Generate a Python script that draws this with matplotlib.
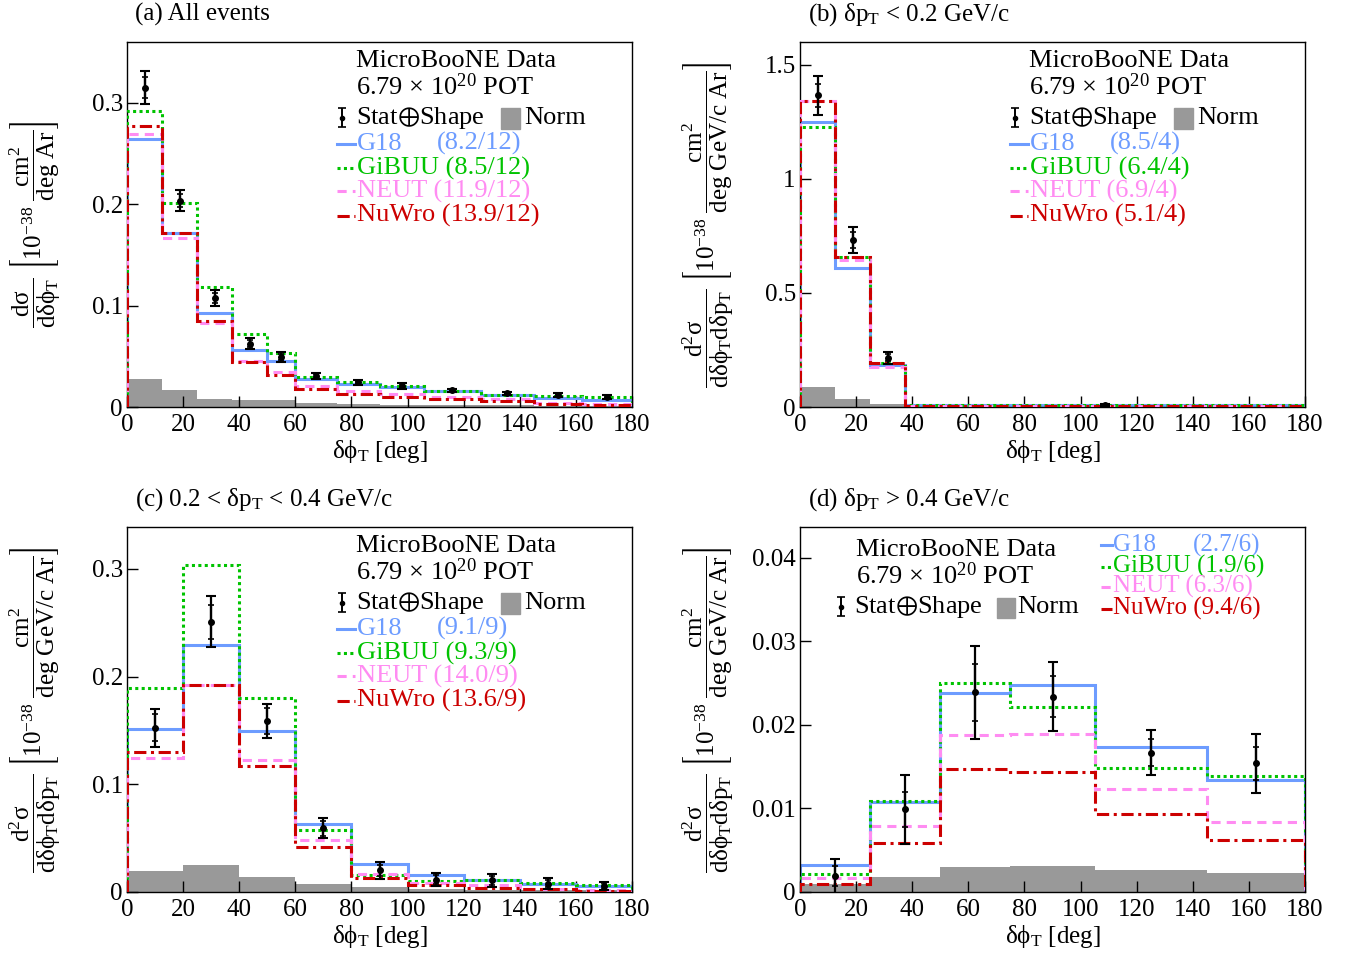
import numpy as np
import matplotlib
matplotlib.use('Agg')
import matplotlib.pyplot as plt
from matplotlib.ticker import FixedLocator, FuncFormatter
from matplotlib.patches import Rectangle

plt.rcParams['font.family'] = ['Liberation Serif', 'STIXGeneral', 'DejaVu Serif']
plt.rcParams['mathtext.fontset'] = 'stix'
plt.rcParams['mathtext.default'] = 'regular'

# ---------------- data ----------------
# (a) All events
edges_a = [0, 12.5, 25, 37.5, 50, 60, 75, 90, 106, 126, 145, 162, 180]
g18_a = [0.264, 0.172, 0.093, 0.056, 0.045, 0.028, 0.023, 0.0197, 0.0154, 0.0115, 0.0089, 0.0066]
gibuu_a = [0.292, 0.201, 0.118, 0.072, 0.0534, 0.030, 0.0246, 0.0207, 0.0157, 0.0121, 0.0108, 0.0098]
neut_a = [0.269, 0.1666, 0.083, 0.045, 0.0348, 0.0207, 0.0157, 0.013, 0.0098, 0.0075, 0.0043, 0.003]
nuwro_a = [0.277, 0.172, 0.0846, 0.0446, 0.032, 0.018, 0.0125, 0.0102, 0.0082, 0.0059, 0.0033, 0.002]
data_a = [0.315, 0.2036, 0.1075, 0.0626, 0.0495, 0.0305, 0.0246, 0.0207, 0.0164, 0.0134, 0.0115, 0.0102]
etot_a = [0.016, 0.0105, 0.008, 0.005, 0.005, 0.003, 0.0025, 0.0025, 0.0015, 0.0015, 0.002, 0.002]
estat_a = [0.010, 0.006, 0.005, 0.003, 0.003, 0.002, 0.0015, 0.0015, 0.001, 0.001, 0.0012, 0.0012]
norm_a = [0.0279, 0.0167, 0.0075, 0.0066, 0.0066, 0.0043, 0.003, 0.002, 0.002, 0.0015, 0.001, 0.001]
chi2_a = ['8.2/12', '8.5/12', '11.9/12', '13.9/12']

# (b) dpT < 0.2 GeV/c
edges_b = [0, 12.5, 25, 37.5, 180]
g18_b = [1.251, 0.608, 0.182, 0.007]
gibuu_b = [1.229, 0.657, 0.194, 0.007]
neut_b = [1.341, 0.646, 0.176, 0.006]
nuwro_b = [1.341, 0.657, 0.191, 0.006]
data_b = [1.367, 0.733, 0.216, 0.009]
etot_b = [0.086, 0.056, 0.027, 0.003]
estat_b = [0.05, 0.035, 0.016, 0.002]
norm_b = [0.089, 0.034, 0.012, 0.001]
chi2_b = ['8.5/4', '6.4/4', '6.9/4', '5.1/4']

# (c) 0.2 < dpT < 0.4 GeV/c
edges_c = [0, 20, 40, 60, 80, 100, 120, 140, 160, 180]
g18_c = [0.151, 0.229, 0.1495, 0.0628, 0.0257, 0.0155, 0.0115, 0.0071, 0.0056]
gibuu_c = [0.1895, 0.304, 0.1805, 0.0573, 0.0155, 0.0099, 0.0115, 0.0084, 0.0062]
neut_c = [0.124, 0.192, 0.123, 0.048, 0.017, 0.0084, 0.0062, 0.003, 0.002]
nuwro_c = [0.130, 0.1926, 0.117, 0.0418, 0.013, 0.0062, 0.004, 0.0025, 0.0006]
data_c = [0.1526, 0.251, 0.159, 0.0594, 0.020, 0.0115, 0.0108, 0.0077, 0.0056]
etot_c = [0.0178, 0.0235, 0.016, 0.0096, 0.0075, 0.006, 0.006, 0.005, 0.004]
estat_c = [0.0125, 0.016, 0.012, 0.007, 0.005, 0.004, 0.004, 0.003, 0.0025]
norm_c = [0.0192, 0.0248, 0.0139, 0.0071, 0.0046, 0.003, 0.002, 0.0015, 0.0015]
chi2_c = ['9.1/9', '9.3/9', '14.0/9', '13.6/9']

# (d) dpT > 0.4 GeV/c
edges_d = [0, 25, 50, 75, 105, 145, 180]
g18_d = [0.0032, 0.01072, 0.02388, 0.0248, 0.01732, 0.0134]
gibuu_d = [0.0022, 0.01088, 0.025, 0.02216, 0.0148, 0.01388]
neut_d = [0.0017, 0.0079, 0.0188, 0.0189, 0.0123, 0.0084]
nuwro_d = [0.0009, 0.0059, 0.0147, 0.0144, 0.0093, 0.0062]
data_d = [0.0019, 0.0099, 0.0239, 0.0234, 0.0167, 0.0154]
etot_d = [0.0021, 0.0041, 0.0056, 0.0041, 0.0027, 0.0035]
estat_d = [0.0012, 0.0021, 0.0034, 0.0025, 0.0016, 0.002]
norm_d = [0.0009, 0.0018, 0.003, 0.0031, 0.0026, 0.0023]
chi2_d = ['2.7/6', '1.9/6', '6.3/6', '9.4/6']

xticks = [0, 20, 40, 60, 80, 100, 120, 140, 160, 180]

# ---------------- style ----------------
C_G18 = '#6d9cff'
C_GIBUU = '#00c300'
C_NEUT = '#ff8cf2'
C_NUWRO = '#cc0000'
C_NORM = '#999999'
LW = 2.2
LS_G18 = '-'
LS_GIBUU = (0, (1, 1.1))
LS_NEUT = (0, (3, 2))
LS_NUWRO = (0, (4, 1.5, 1, 1.5))
FS = 18
LFS = 19

W, H = 1346, 960
fig = plt.figure(figsize=(W / 100, H / 100), dpi=100)


def add_ax(l, t, r, b):
    return fig.add_axes([l / W, 1 - b / H, (r - l) / W, (b - t) / H])


YLAB_1D = (r'$\dfrac{d\sigma}{d\delta\phi_{T}}\ \left[10^{-38}\ \dfrac{cm^{2}}{deg\ Ar}\right]$')
YLAB_2D = (r'$\dfrac{d^{2}\sigma}{d\delta\phi_{T}d\delta p_{T}}\ '
           r'\left[10^{-38}\ \dfrac{cm^{2}}{deg\ GeV/c\ Ar}\right]$')


def fmt(v, pos):
    return ('%g' % v)


def draw_panel(ax, edges, g18, gibuu, neut, nuwro, data, etot, estat, norm,
               ymax, yticks, ylabel, title, chi2, layout):
    edges = np.asarray(edges, float)
    ax.stairs(norm, edges, fill=True, color=C_NORM, lw=0, zorder=1)
    ax.stairs(g18, edges, color=C_G18, lw=LW, ls=LS_G18, zorder=2)
    ax.stairs(gibuu, edges, color=C_GIBUU, lw=LW, ls=LS_GIBUU, zorder=3)
    ax.stairs(neut, edges, color=C_NEUT, lw=LW, ls=LS_NEUT, zorder=4)
    ax.stairs(nuwro, edges, color=C_NUWRO, lw=LW, ls=LS_NUWRO, zorder=5)
    centers = 0.5 * (edges[1:] + edges[:-1])
    ax.errorbar(centers, data, yerr=etot, fmt='o', color='k', ms=4, capsize=3.5,
                elinewidth=1.6, capthick=1.5, zorder=6)
    ax.errorbar(centers, data, yerr=estat, fmt='none', ecolor='k', capsize=2.5,
                elinewidth=1.6, capthick=1.2, zorder=6)

    ax.set_xlim(0, 180)
    ax.set_ylim(0, ymax)
    ax.xaxis.set_major_locator(FixedLocator(xticks))
    ax.yaxis.set_major_locator(FixedLocator(yticks))
    ax.yaxis.set_major_formatter(FuncFormatter(fmt))
    ax.tick_params(direction='in', length=8, width=1.0, labelsize=FS, pad=5,
                   top=False, right=False)
    ax.tick_params(axis='y', pad=3)
    for s in ax.spines.values():
        s.set_linewidth(1.0)
    ax.set_xlabel(r'$\delta\phi_{T}$ [deg]', fontsize=FS)
    ax.xaxis.set_label_coords(0.5, -0.085)
    ax.set_ylabel(ylabel, fontsize=FS)
    ax.yaxis.set_label_coords(-0.127, 0.5)
    ax.text(0.015, 1.075, title, transform=ax.transAxes, fontsize=FS, va='center', ha='left')

    T = ax.transAxes
    if layout == 'A':
        tx = 0.453
        ax.text(tx, 0.9315, 'MicroBooNE Data', transform=T, fontsize=LFS)
        ax.text(tx, 0.855, r'6.79 × 10$^{20}$ POT', transform=T, fontsize=LFS)
        ax.text(tx, 0.775, r'Stat$\oplus$Shape', transform=T, fontsize=LFS)
        ax.errorbar([0.425], [0.793], yerr=[0.026], fmt='o', color='k', ms=3,
                    capsize=3, elinewidth=1.4, capthick=1.2, transform=T, clip_on=False)
        ax.add_patch(Rectangle((0.740, 0.762), 0.038, 0.057, color=C_NORM, transform=T))
        ax.text(0.786, 0.775, 'Norm', transform=T, fontsize=LFS)
        ys = [0.704, 0.638, 0.575, 0.507]
        sx0, sx1, mx, cx = 0.416, 0.451, 0.455, 0.613
        dy = 0.017
        mfs = LFS
    else:
        ax.text(0.110, 0.921, 'MicroBooNE Data', transform=T, fontsize=LFS)
        ax.text(0.110, 0.844, r'6.79 × 10$^{20}$ POT', transform=T, fontsize=LFS)
        ax.text(0.107, 0.764, r'Stat$\oplus$Shape', transform=T, fontsize=LFS)
        ax.errorbar([0.081], [0.782], yerr=[0.026], fmt='o', color='k', ms=3,
                    capsize=3, elinewidth=1.4, capthick=1.2, transform=T, clip_on=False)
        ax.add_patch(Rectangle((0.390, 0.751), 0.036, 0.054, color=C_NORM, transform=T))
        ax.text(0.431, 0.764, 'Norm', transform=T, fontsize=LFS)
        ys = [0.934, 0.874, 0.819, 0.759]
        sx0, sx1, mx, cx = 0.596, 0.618, 0.620, 0.778
        dy = 0.016
        mfs = 18
    names = ['G18', 'GiBUU', 'NEUT', 'NuWro']
    cols = [C_G18, C_GIBUU, C_NEUT, C_NUWRO]
    lss = [LS_G18, LS_GIBUU, LS_NEUT, LS_NUWRO]
    for i in range(4):
        ax.plot([sx0, sx1], [ys[i] + dy, ys[i] + dy], color=cols[i], ls=lss[i], lw=LW,
                transform=T, clip_on=False)
        if i == 0:
            ax.text(mx, ys[i], names[i], transform=T, fontsize=mfs, color=cols[i])
            ax.text(cx, ys[i], '(%s)' % chi2[i], transform=T, fontsize=mfs, color=cols[i])
        else:
            ax.text(mx, ys[i], '%s (%s)' % (names[i], chi2[i]), transform=T, fontsize=mfs,
                    color=cols[i])


axa = add_ax(127, 42, 632, 407)
axb = add_ax(800, 42, 1305, 407)
axc = add_ax(127, 527, 632, 892)
axd = add_ax(800, 527, 1305, 892)

draw_panel(axa, edges_a, g18_a, gibuu_a, neut_a, nuwro_a, data_a, etot_a, estat_a, norm_a,
           0.36, [0, 0.1, 0.2, 0.3], YLAB_1D, '(a) All events', chi2_a, 'A')
draw_panel(axb, edges_b, g18_b, gibuu_b, neut_b, nuwro_b, data_b, etot_b, estat_b, norm_b,
           1.6, [0, 0.5, 1, 1.5], YLAB_2D, r'(b) $\delta p_{T}$ < 0.2 GeV/c', chi2_b, 'A')
draw_panel(axc, edges_c, g18_c, gibuu_c, neut_c, nuwro_c, data_c, etot_c, estat_c, norm_c,
           0.339, [0, 0.1, 0.2, 0.3], YLAB_2D, r'(c) 0.2 < $\delta p_{T}$ < 0.4 GeV/c', chi2_c, 'A')
draw_panel(axd, edges_d, g18_d, gibuu_d, neut_d, nuwro_d, data_d, etot_d, estat_d, norm_d,
           0.0437, [0, 0.01, 0.02, 0.03, 0.04], YLAB_2D, r'(d) $\delta p_{T}$ > 0.4 GeV/c', chi2_d, 'D')

fig.savefig('out.png', dpi=100)
